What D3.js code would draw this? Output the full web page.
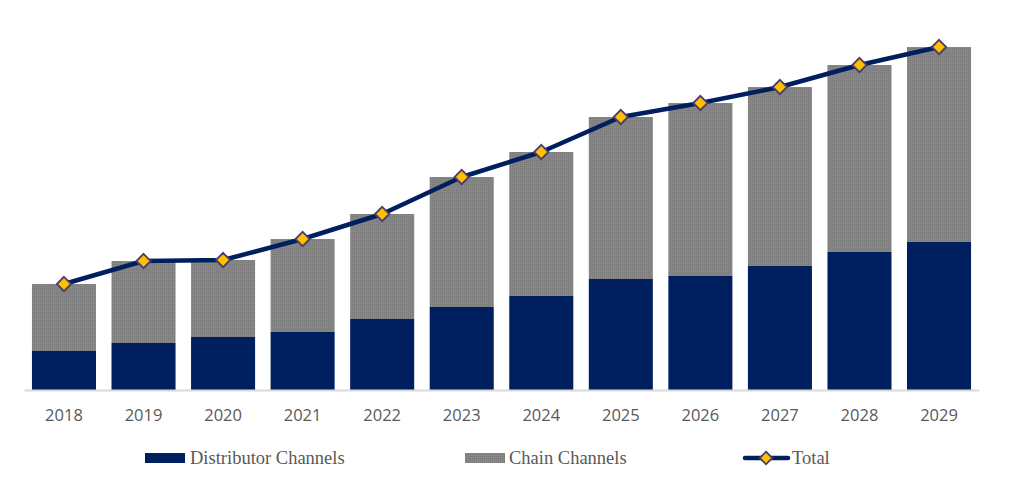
<!DOCTYPE html>
<html>
<head>
<meta charset="utf-8">
<script src="https://cdn.jsdelivr.net/npm/d3@7"></script>
<style>
  body { margin: 0; background: #fff; }
  svg { display: block; }
</style>
</head>
<body>
<div class="chart-container"></div>
<script>
const years = ["2018", "2019", "2020", "2021", "2022", "2023", "2024", "2025", "2026", "2027", "2028", "2029"];
const distributor = [39, 47, 53, 58, 71, 83, 94, 111, 114, 124, 138, 148];
const chain = [67, 82, 77, 93, 105, 130, 144, 162, 173, 179, 187, 195];
const total = [106, 129, 130, 151, 176, 213, 238, 273, 287, 303, 325, 343];
const legendLabels = ["Distributor Channels", "Chain Channels", "Total"];

const width = 1015, height = 498;
const navy = "#001f5f";

const svg = d3.select(".chart-container").append("svg")
    .attr("width", width)
    .attr("height", height);

// dotted grey fill like the original
const defs = svg.append("defs");
const pat = defs.append("pattern")
    .attr("id", "dots")
    .attr("width", 2).attr("height", 2)
    .attr("patternUnits", "userSpaceOnUse");
pat.append("rect").attr("width", 2).attr("height", 2).attr("fill", "#878787");
pat.append("rect").attr("width", 1).attr("height", 1).attr("fill", "#777777");

const x = d3.scaleBand().domain(years).range([24, 979]).paddingInner(0.195).paddingOuter(0.1);
const y = d3.scaleLinear().domain([0, 350]).range([390, 40]);

const rows = years.map((yr, i) => ({year: yr, dist: distributor[i], chain: chain[i], total: total[i]}));
const stack = d3.stack().keys(["dist", "chain"])(rows);
const fills = [navy, "url(#dots)"];

stack.forEach((layer, k) => {
  svg.append("g").selectAll("rect")
      .data(layer)
    .enter().append("rect")
      .attr("x", d => x(d.data.year))
      .attr("width", x.bandwidth())
      .attr("y", d => y(d[1]))
      .attr("height", d => y(d[0]) - y(d[1]))
      .attr("fill", fills[k]);
});

// baseline + year labels
const xAxis = svg.append("g")
    .attr("transform", "translate(0,390)")
    .call(d3.axisBottom(x).tickSize(0).tickPadding(19));
xAxis.select(".domain").attr("stroke", "#d9d9d9").attr("stroke-width", 2);
xAxis.selectAll("text")
    .attr("fill", "#595959")
    .style("font-family", "'Open Sans', sans-serif")
    .style("font-size", "16.5px");

// total line
const line = d3.line()
    .x(d => x(d.year) + x.bandwidth() / 2)
    .y(d => y(d.total));

svg.append("path")
    .datum(rows)
    .attr("d", line)
    .attr("fill", "none")
    .attr("stroke", navy)
    .attr("stroke-width", 4.5)
    .attr("stroke-linejoin", "round");

const diamond = d3.symbol().type(d3.symbolDiamond2).size(130);
function addMarker(g, s) {
  g.append("path")
      .attr("d", s || diamond)
      .attr("fill", "#ffc000")
      .attr("stroke", "#4b3b6e")
      .attr("stroke-width", 1.8);
}

svg.append("g").selectAll("g")
    .data(rows)
  .enter().append("g")
    .attr("transform", d => "translate(" + (x(d.year) + x.bandwidth() / 2) + "," + y(d.total) + ")")
    .each(function() { addMarker(d3.select(this)); });

// legend
const legend = svg.append("g")
    .style("font-family", "'Liberation Serif', 'Times New Roman', serif")
    .style("font-size", "18.5px")
    .attr("fill", "#595959");

legend.append("rect").attr("x", 145).attr("y", 453).attr("width", 40).attr("height", 10).attr("fill", navy);
legend.append("text").attr("x", 190).attr("y", 464).text(legendLabels[0]);

legend.append("rect").attr("x", 465).attr("y", 453).attr("width", 40).attr("height", 10).attr("fill", "url(#dots)");
legend.append("text").attr("x", 509).attr("y", 464).text(legendLabels[1]);

legend.append("line").attr("x1", 745).attr("x2", 788).attr("y1", 458).attr("y2", 458)
    .attr("stroke", navy).attr("stroke-width", 4.5).attr("stroke-linecap", "round");
legend.append("g").attr("transform", "translate(766,458)")
    .call(g => addMarker(g, d3.symbol().type(d3.symbolDiamond2).size(100)));
legend.append("text").attr("x", 792).attr("y", 464).text(legendLabels[2]);
</script>
</body>
</html>
